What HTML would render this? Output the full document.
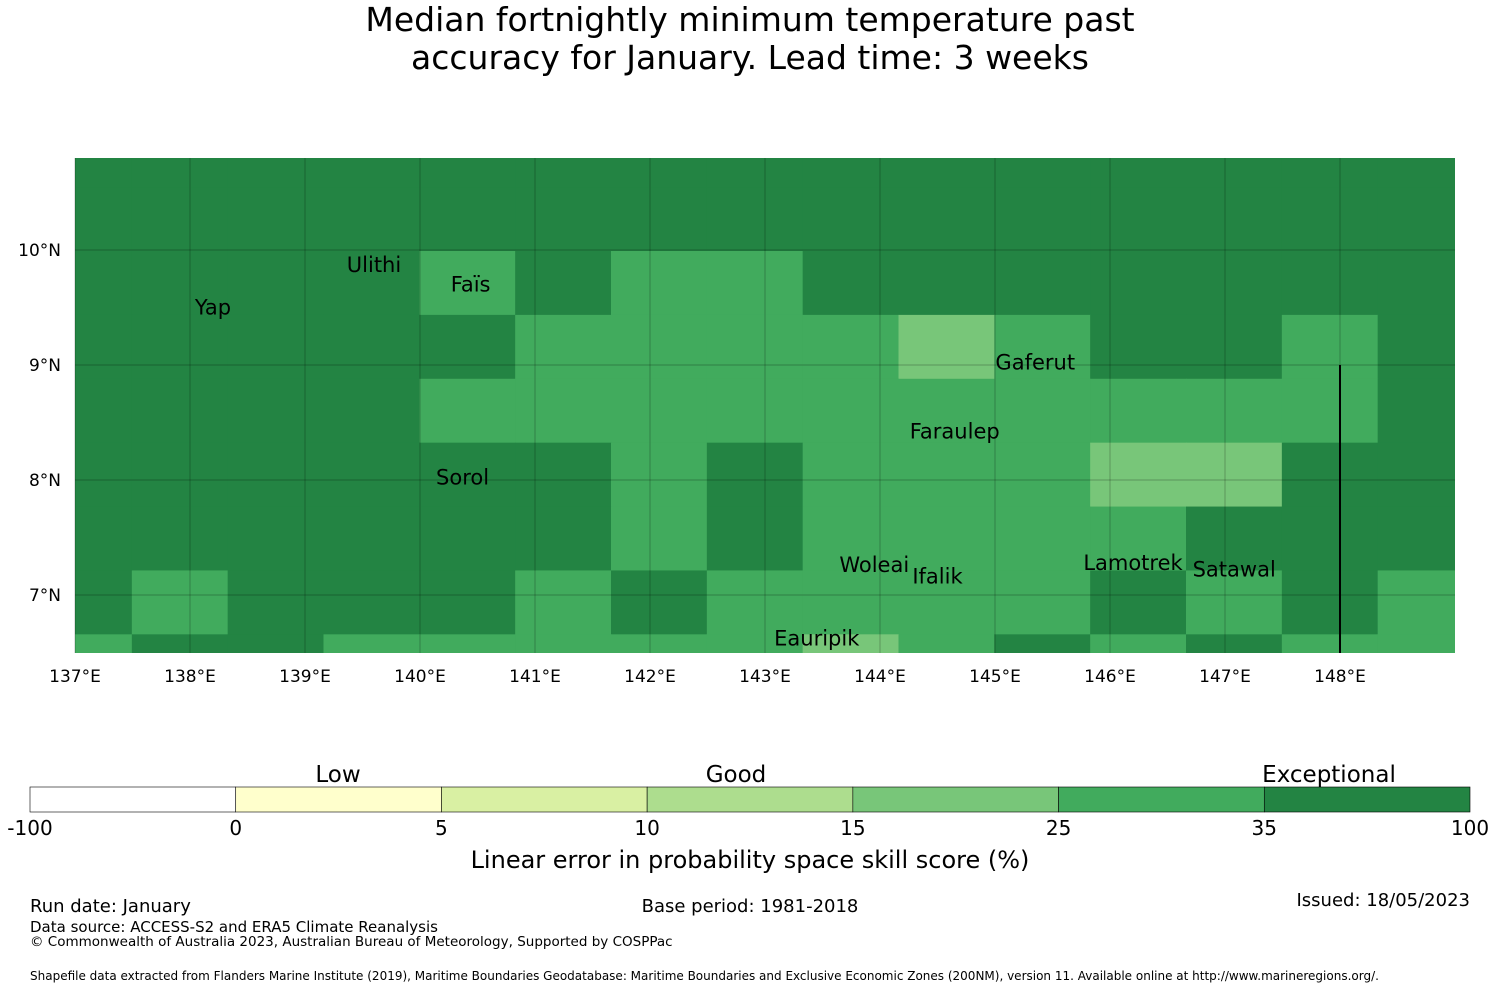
<!DOCTYPE html>
<html><head><meta charset="utf-8"><style>
body{margin:0;background:#fff;font-family:"DejaVu Sans","Liberation Sans",sans-serif;}
svg text{font-family:"DejaVu Sans","Liberation Sans",sans-serif;}
</style></head><body>
<svg id="chart" width="1500" height="990" xmlns="http://www.w3.org/2000/svg">
<text x="750" y="31" font-size="33" text-anchor="middle">Median fortnightly minimum temperature past</text>
<text x="750" y="69" font-size="33" text-anchor="middle">accuracy for January. Lead time: 3 weeks</text>
<defs><clipPath id="mapclip"><rect x="75" y="158" width="1380" height="495"/></clipPath></defs>
<g id="cells" clip-path="url(#mapclip)"></g>
<g id="grid"></g>
<line x1="1340" y1="365" x2="1340" y2="653" stroke="#000" stroke-width="2"/>
<g id="places" font-size="21"></g>
<g id="axes" font-size="17"></g>
<g id="cbar"></g>
<text x="750" y="868" font-size="24" text-anchor="middle">Linear error in probability space skill score (%)</text>
<text x="30" y="912" font-size="18">Run date: January</text>
<text x="750" y="912" font-size="18" text-anchor="middle">Base period: 1981-2018</text>
<text x="1470" y="906" font-size="18" text-anchor="end">Issued: 18/05/2023</text>
<text x="30" y="932" font-size="15">Data source: ACCESS-S2 and ERA5 Climate Reanalysis</text>
<text x="30" y="946" font-size="13.5">© Commonwealth of Australia 2023, Australian Bureau of Meteorology, Supported by COSPPac</text>
<text x="30" y="980" font-size="12">Shapefile data extracted from Flanders Marine Institute (2019), Maritime Boundaries Geodatabase: Maritime Boundaries and Exclusive Economic Zones (200NM), version 11. Available online at http://www.marineregions.org/.</text>
</svg>
<script>
// Skill values per grid cell, rows from north to south, columns west to east
const row0=[40,40,40,40,40,40,40,40,40,40,40,40,40,40,40];
const row1=[40,40,40,40,40,40,40,40,40,40,40,40,40,40,40];
const row2=[40,40,40,40,30,40,30,30,40,40,40,40,40,40,40];
const row3=[40,40,40,40,40,30,30,30,30,20,30,40,40,30,40];
const row4=[40,40,40,40,30,30,30,30,30,30,30,30,30,30,40];
const row5=[40,40,40,40,40,40,30,40,30,30,30,20,20,40,40];
const row6=[40,40,40,40,40,40,30,40,30,30,30,30,40,40,40];
const row7=[40,30,40,40,40,30,40,30,30,30,30,40,30,40,30];
const row8=[30,40,40,30,30,30,30,30,20,30,40,30,40,30,30];
const gridRows=[row0,row1,row2,row3,row4,row5,row6,row7,row8];
const lonTicks=[137,138,139,140,141,142,143,144,145,146,147,148];
const latTicks=[10,9,8,7];
const cbBounds=[-100,0,5,10,15,25,35,100];
const cbColors=["#ffffff","#ffffcc","#d9f0a3","#addd8e","#78c679","#41ab5d","#238443"];
const places=[["Ulithi",139.6,9.87],["Faïs",140.44,9.7],["Yap",138.2,9.5],["Gaferut",145.35,9.02],["Faraulep",144.65,8.42],["Sorol",140.37,8.02],["Woleai",143.95,7.26],["Ifalik",144.5,7.16],["Lamotrek",146.2,7.28],["Satawal",147.08,7.22],["Eauripik",143.45,6.62]];

const NS="http://www.w3.org/2000/svg";
const lonX=l=>75+(l-137)*115;
const latY=l=>250+(10-l)*115;
const cellW=115*5/6, cellH=115*5/9;
function colorFor(v){for(let i=0;i<cbColors.length;i++){if(v<=cbBounds[i+1])return cbColors[i];}return cbColors[cbColors.length-1];}
function mk(t,a,p){const e=document.createElementNS(NS,t);for(const k in a)e.setAttribute(k,a[k]);p.appendChild(e);return e;}
const cells=document.getElementById('cells');
const topY=250-2*cellH+1;
gridRows.forEach((row,r)=>row.forEach((v,c)=>{
 const e=mk('rect',{x:36+c*cellW,y:topY+r*cellH,width:cellW+0.6,height:cellH+0.6,fill:colorFor(v)},cells);
 
 
}));
const grid=document.getElementById('grid'), axes=document.getElementById('axes');
lonTicks.forEach(l=>{
 const e=mk('line',{x1:lonX(l),y1:158,x2:lonX(l),y2:653,stroke:"#000","stroke-opacity":0.2,"stroke-width":1.2},grid);
 
 const t=mk('text',{x:lonX(l),y:682,"text-anchor":"middle"},axes);t.textContent=l+"°E";
 
});
latTicks.forEach(l=>{
 const e=mk('line',{x1:75,y1:latY(l),x2:1455,y2:latY(l),stroke:"#000","stroke-opacity":0.2,"stroke-width":1.2},grid);
 
 const t=mk('text',{x:61,y:latY(l)+6,"text-anchor":"end"},axes);t.textContent=l+"°N";
 
});
const pl=document.getElementById('places');
places.forEach(p=>{const t=mk('text',{x:lonX(p[1]),y:latY(p[2])+7,"text-anchor":"middle"},pl);t.textContent=p[0];
 });
const cb=document.getElementById('cbar');const segW=1440/cbColors.length;
cbColors.forEach((c,i)=>{const e=mk('rect',{x:30+i*segW,y:787,width:segW,height:25,fill:c,stroke:"#000","stroke-width":0.6},cb);
 });
cbBounds.forEach((b,i)=>{const t=mk('text',{x:30+i*segW,y:835,"font-size":20,"text-anchor":"middle"},cb);t.textContent=b;
 });
[["Low",338],["Good",736],["Exceptional",1329]].forEach(a=>{const t=mk('text',{x:a[1],y:782,"font-size":23,"text-anchor":"middle"},cb);t.textContent=a[0];
 });
</script>
</body></html>
